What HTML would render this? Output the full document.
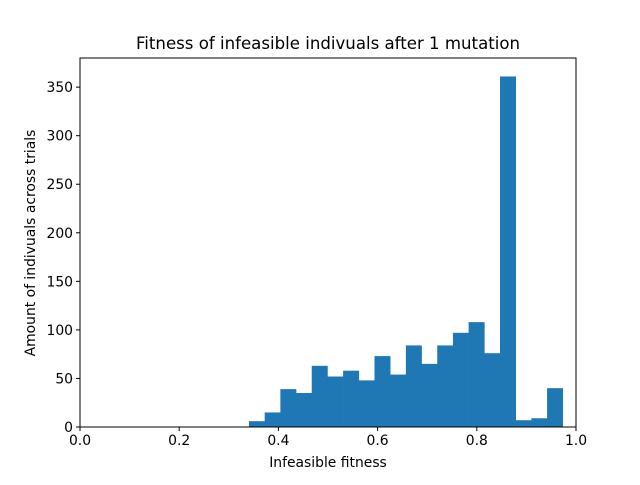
<!DOCTYPE html>
<html><head><meta charset="utf-8"><style>
body{margin:0;background:#fff}
svg text{font-family:"DejaVu Sans","Liberation Sans",sans-serif;fill:#000}
</style></head><body>
<svg width="640" height="480">
<text x="328" y="49" font-size="16.6" text-anchor="middle">Fitness of infeasible indivuals after 1 mutation</text>
<g id="bars"></g>
<g id="axes"></g>
<text x="328" y="467" font-size="13.9" text-anchor="middle">Infeasible fitness</text>
<text transform="translate(35,243) rotate(-90)" font-size="13.9" text-anchor="middle">Amount of indivuals across trials</text>
</svg>
<script>
const binStart = 0.3407;
const binWidth = 0.03163;
const counts = [6,15,39,35,63,52,58,48,73,54,84,65,84,97,108,76,361,7,9,40];
const xTicks = [0,0.2,0.4,0.6,0.8,1.0];
const xTickLabels = ["0.0","0.2","0.4","0.6","0.8","1.0"];
const yTicks = [0,50,100,150,200,250,300,350];
const L=80,R=576,T=58,B=427,YMAX=380;
const sx=v=>L+v*(R-L);
const sy=v=>B-v/YMAX*(B-T);
const NS="http://www.w3.org/2000/svg";
const bars=document.getElementById('bars'),axes=document.getElementById('axes');
function mk(tag,attrs,parent){const e=document.createElementNS(NS,tag);for(const k in attrs)e.setAttribute(k,attrs[k]);parent.appendChild(e);return e;}
counts.forEach((c,i)=>{
  const x0=sx(binStart+i*binWidth),x1=sx(binStart+(i+1)*binWidth);
  const r=mk('rect',{x:x0,y:sy(c),width:x1-x0+0.3,height:B-sy(c),fill:'#1f77b4'},bars);
  
  
});
const fr=mk('rect',{x:L,y:T,width:R-L,height:B-T,fill:'none',stroke:'#000','stroke-width':1},axes);


xTicks.forEach((v,i)=>{
  const x=sx(v);
  mk('line',{x1:x,x2:x,y1:B,y2:B+4,stroke:'#000'},axes);
  const t=mk('text',{x:x,y:B+18,'font-size':13.9,'text-anchor':'middle'},axes);
  t.textContent=xTickLabels[i];
  
  
});
yTicks.forEach(v=>{
  const y=sy(v);
  mk('line',{x1:L-4,x2:L,y1:y,y2:y,stroke:'#000'},axes);
  const t=mk('text',{x:L-7,y:y+5,'font-size':13.9,'text-anchor':'end'},axes);
  t.textContent=v;
  
  
});
</script>
</body></html>
